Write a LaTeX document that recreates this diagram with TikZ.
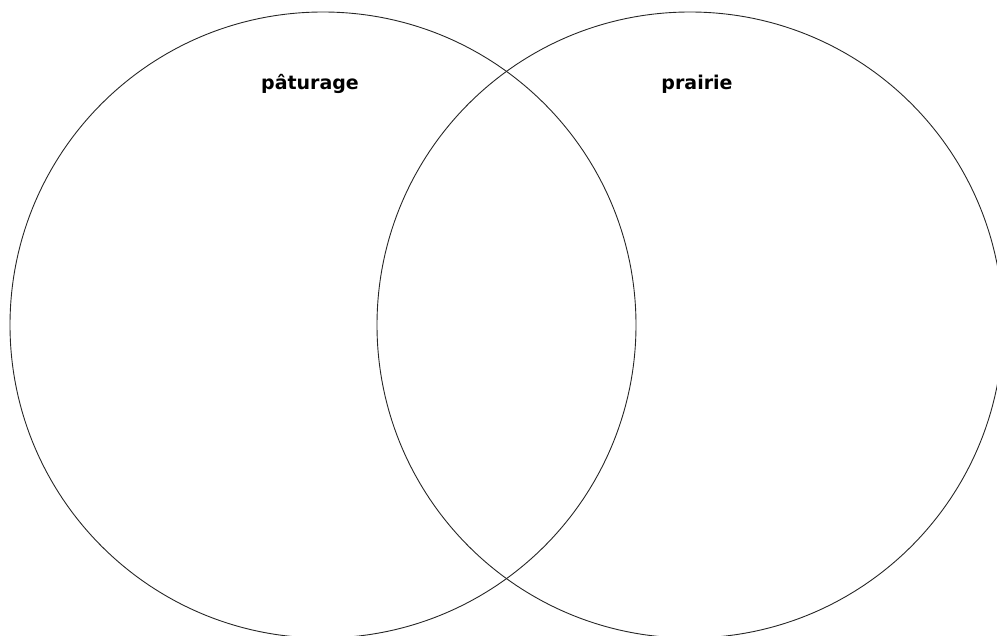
\documentclass[tikz,border=0pt]{standalone}
\usepackage{fontspec}
\setmainfont{DejaVu Sans}
\begin{document}
\begin{tikzpicture}[x=1pt,y=-1pt,
  ring/.style={draw=black!85,line width=0.9pt},
  lbl/.style={font=\fontsize{19}{22}\selectfont\bfseries,inner sep=0pt,anchor=base}]
\useasboundingbox (0,0) rectangle (997,636);
\path[ring] (323,325) circle[radius=313];
\path[ring] (690,325) circle[radius=313];
\node[lbl] (a) at (310,90) {pâturage};
\node[lbl] (b) at (697,90) {prairie};
\end{tikzpicture}
\end{document}
